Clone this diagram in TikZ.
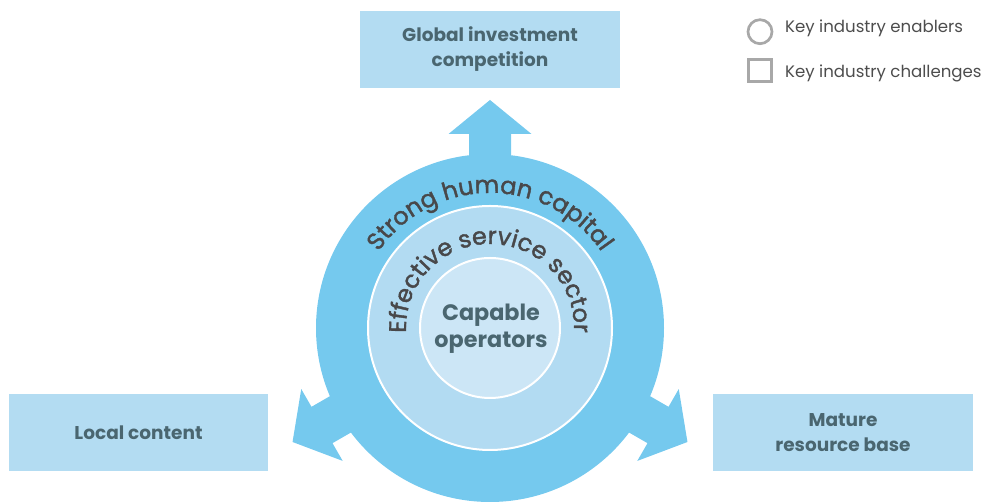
\documentclass[tikz,border=0pt]{standalone}
\usepackage{fontspec}
\setmainfont{Poppins}
\newfontfamily\curvefont{Poppins}[FakeBold=1.6]
\usetikzlibrary{decorations.text}
\definecolor{ringblue}{HTML}{75C9EE}
\definecolor{midblue}{HTML}{B2DBF2}
\definecolor{innerblue}{HTML}{CCE6F6}
\definecolor{boxblue}{HTML}{B3DCF2}
\definecolor{slate}{HTML}{4A6670}
\definecolor{darkgray}{HTML}{48484A}
\definecolor{leggray}{HTML}{A8A8A8}
\definecolor{legtext}{HTML}{4D4D4D}
\tikzset{
  challenge/.style={fill=boxblue, draw=none, minimum width=260pt, minimum height=77pt, inner sep=0pt,
    align=center, text=slate, font=\fontsize{18.5pt}{25pt}\selectfont\bfseries},
  ringfill/.style={fill=ringblue},
  legendtext/.style={anchor=base west, text=legtext, font=\fontsize{16.6pt}{18pt}\selectfont, inner sep=0pt},
  legendshape/.style={draw=leggray, line width=2.7pt},
}
\begin{document}
\begin{tikzpicture}[x=1pt,y=1pt]
\useasboundingbox (0,0) rectangle (986,502);
\coordinate (C) at (490,174);
% outer ring with arrows
\fill[ringfill] (C) circle (174);
\foreach \a in {90,210,330}{
  \fill[ringfill, shift={(C)}, rotate=\a-90]
    (-21,150) -- (-21,194) -- (-41.5,194) -- (0,228) -- (41.5,194) -- (21,194) -- (21,150) -- cycle;
}
% middle and inner circles
\fill[midblue] (C) circle (122);
\draw[white, line width=2pt] (C) circle (122);
\fill[innerblue] (C) circle (70);
\draw[white, line width=2pt] (C) circle (70);
% curved texts
\path[decorate, decoration={text along path, text align=center,
  text={|\color{darkgray}\curvefont\fontsize{24pt}{24pt}\selectfont|Strong human capital}}]
  (C) ++(150:135) arc (150:30:135);
\path[decorate, decoration={text along path, text align=center,
  text={|\color{darkgray}\curvefont\fontsize{24pt}{24pt}\selectfont|Effective service sector}}]
  (C) ++(182:84) arc (182:-2:84);
\node[align=center, text=slate, font=\fontsize{22.3pt}{27pt}\selectfont\bfseries] (core) at (491,173) {Capable\\operators};
% challenge boxes
\node[challenge] (global) at (490,452.5) {Global investment\\competition};
\node[challenge, minimum width=259pt] (local) at (138.5,69.5) {Local content};
\node[challenge] (mature) at (843,69.5) {Mature\\resource base};
% legend
\draw[legendshape] (760,470.3) circle (12) coordinate (legc);
\draw[legendshape] (748.6,442.4) rectangle (771.4,420.6);
\node[legendtext] (leg1) at (785,469) {Key industry enablers};
\node[legendtext] (leg2) at (785,424) {Key industry challenges};
\end{tikzpicture}
\end{document}
